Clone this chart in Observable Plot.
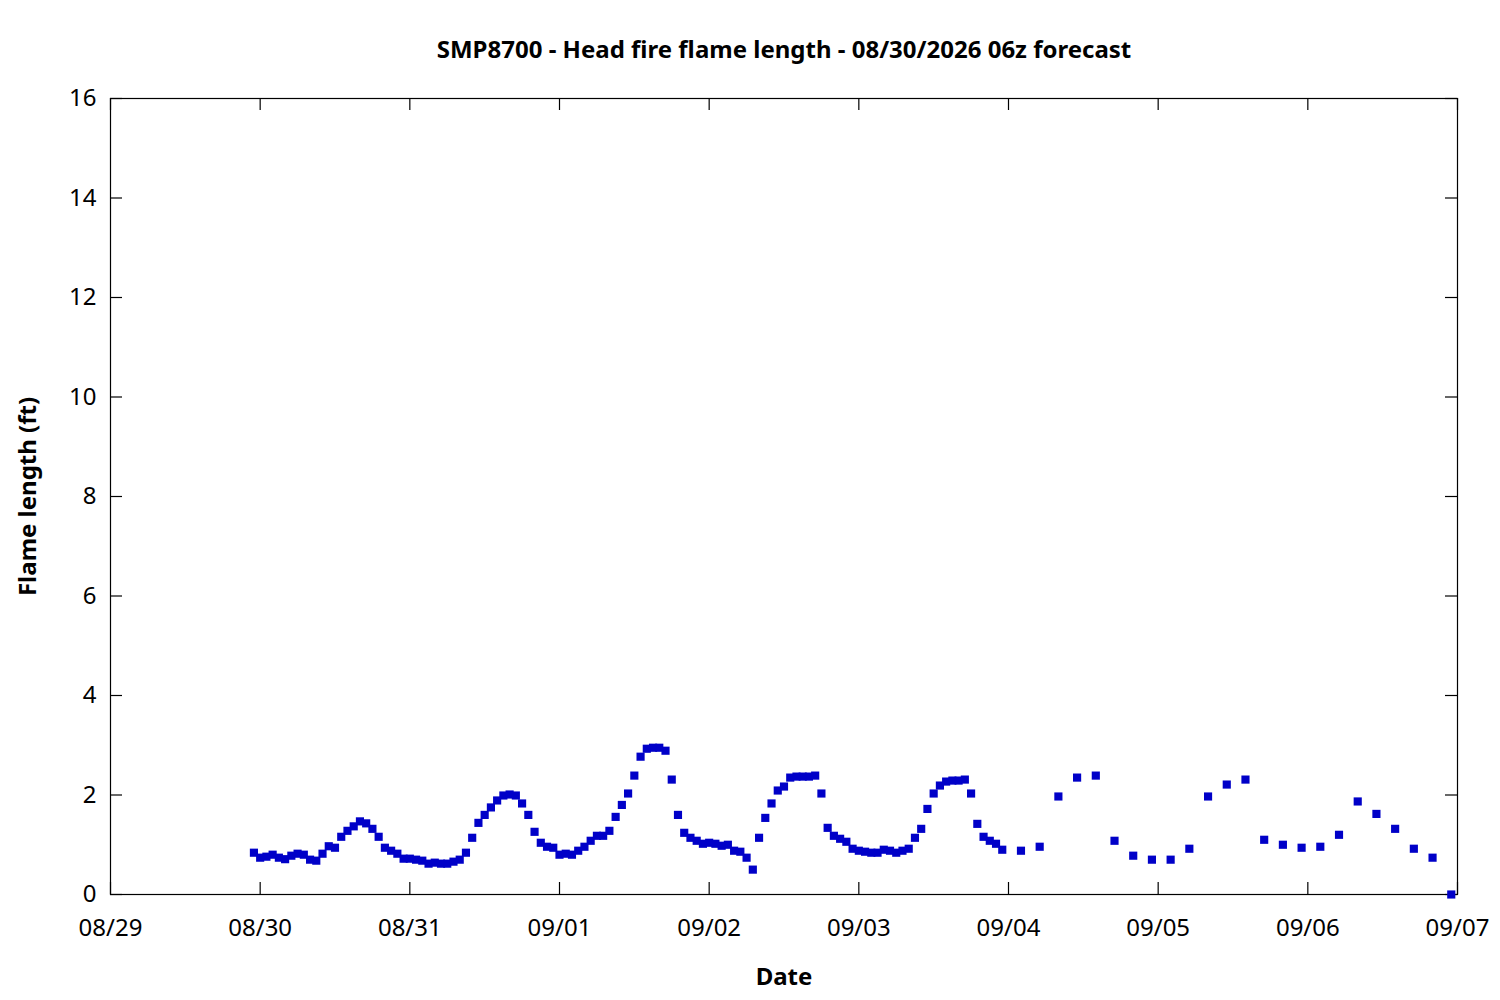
<!DOCTYPE html>
<html>
<head>
<meta charset="utf-8">
<script src="https://cdn.jsdelivr.net/npm/d3@7"></script>
<script src="https://cdn.jsdelivr.net/npm/@observablehq/plot@0.6"></script>
<style>
  html, body { margin: 0; padding: 0; background: #fff; }
</style>
</head>
<body>
<div id="chart"></div>
<script>
const titleText = "SMP8700 - Head fire flame length - 08/30/2026 06z forecast";
const xLabel = "Date";
const yLabel = "Flame length (ft)";

// Hourly values, starting 2026-08-29 23:00
const hourlyStart = "2026-08-29T23:00:00Z";
const hourlyValues = [
  0.84, 0.74, 0.76, 0.80, 0.74, 0.71, 0.78, 0.82, 0.80, 0.70,
  0.68, 0.82, 0.97, 0.94, 1.16, 1.28, 1.37, 1.47, 1.43, 1.32,
  1.16, 0.94, 0.88, 0.82, 0.72, 0.72, 0.70, 0.68, 0.62, 0.64,
  0.62, 0.62, 0.66, 0.70, 0.84, 1.14, 1.44, 1.60, 1.75, 1.89,
  1.99, 2.01, 1.99, 1.83, 1.60, 1.26, 1.04, 0.96, 0.94, 0.80,
  0.82, 0.80, 0.88, 0.96, 1.08, 1.18, 1.18, 1.28, 1.56, 1.80,
  2.03, 2.39, 2.77, 2.93, 2.95, 2.95, 2.89, 2.31, 1.60, 1.24,
  1.14, 1.08, 1.02, 1.04, 1.02, 0.98, 1.00, 0.88, 0.86, 0.74,
  0.50, 1.14, 1.54, 1.83, 2.09, 2.17, 2.35, 2.37, 2.37, 2.37,
  2.39, 2.03, 1.34, 1.18, 1.12, 1.06, 0.92, 0.88, 0.86, 0.84,
  0.84, 0.90, 0.88, 0.84, 0.88, 0.92, 1.14, 1.32, 1.72, 2.03,
  2.19, 2.27, 2.29, 2.29, 2.31, 2.03, 1.42, 1.16, 1.08, 1.02,
  0.90
];

// 3-hourly values, starting 2026-09-04 02:00
const threeHourlyStart = "2026-09-04T02:00:00Z";
const threeHourlyValues = [
  0.88, 0.96, 1.97, 2.35, 2.39, 1.08, 0.78, 0.70, 0.70, 0.92,
  1.97, 2.21, 2.31, 1.10, 1.00, 0.94, 0.96, 1.20, 1.87, 1.62,
  1.32, 0.92, 0.74, 0.00
];

const xTicks = ["2026-08-29", "2026-08-30", "2026-08-31", "2026-09-01", "2026-09-02",
                "2026-09-03", "2026-09-04", "2026-09-05", "2026-09-06", "2026-09-07"];
const yTicks = [0, 2, 4, 6, 8, 10, 12, 14, 16];

const HOUR = 3600 * 1000;
const data = [
  ...hourlyValues.map((v, i) => ({t: new Date(Date.parse(hourlyStart) + i * HOUR), v})),
  ...threeHourlyValues.map((v, i) => ({t: new Date(Date.parse(threeHourlyStart) + i * 3 * HOUR), v}))
];
const xTickDates = xTicks.map(s => new Date(s + "T00:00:00Z"));

const W = 1500, H = 1000;
const mL = 110, mR = 43, mT = 98, mB = 106;
const innerW = W - mL - mR, innerH = H - mT - mB;
const T = 12;
const FS = 24;

const chart = Plot.plot({
  width: W,
  height: H,
  marginLeft: mL,
  marginRight: mR,
  marginTop: mT,
  marginBottom: mB,
  style: {fontFamily: "'Noto Sans', sans-serif", fontSize: FS + "px", color: "#000", background: "#fff"},
  x: {type: "utc", domain: [xTickDates[0], xTickDates[xTickDates.length - 1]]},
  y: {domain: [0, 16]},
  marks: [
    Plot.frame({stroke: "#000", strokeWidth: 1.2}),
    Plot.axisX({ticks: xTickDates, tickFormat: d3.utcFormat("%m/%d"), tickSize: 0, tickPadding: 24, label: null, fontSize: FS}),
    Plot.axisY({ticks: yTicks, tickSize: 0, tickPadding: 14, label: null, fontSize: FS}),
    // inward ticks on all four sides
    Plot.ruleX(xTickDates, {x: d => d, insetTop: innerH - T, stroke: "#000", strokeWidth: 1.2}),
    Plot.ruleX(xTickDates, {x: d => d, insetBottom: innerH - T, stroke: "#000", strokeWidth: 1.2}),
    Plot.ruleY(yTicks, {y: d => d, insetRight: innerW - T, stroke: "#000", strokeWidth: 1.2}),
    Plot.ruleY(yTicks, {y: d => d, insetLeft: innerW - T, stroke: "#000", strokeWidth: 1.2}),
    Plot.dot(data, {x: "t", y: "v", symbol: "square", r: 4.6, fill: "#0000c8", stroke: null}),
    Plot.text([titleText], {frameAnchor: "top", dy: -48, fontWeight: "bold", fontSize: FS, lineAnchor: "middle", fill: "#000"}),
    Plot.text([xLabel], {frameAnchor: "bottom", dy: 83, fontWeight: "bold", fontSize: FS, lineAnchor: "middle", fill: "#000"}),
    Plot.text([yLabel], {frameAnchor: "left", dx: -82, rotate: -90, fontWeight: "bold", fontSize: FS, lineAnchor: "middle", textAnchor: "middle", fill: "#000"})
  ]
});
document.getElementById("chart").appendChild(chart);
</script>
</body>
</html>
